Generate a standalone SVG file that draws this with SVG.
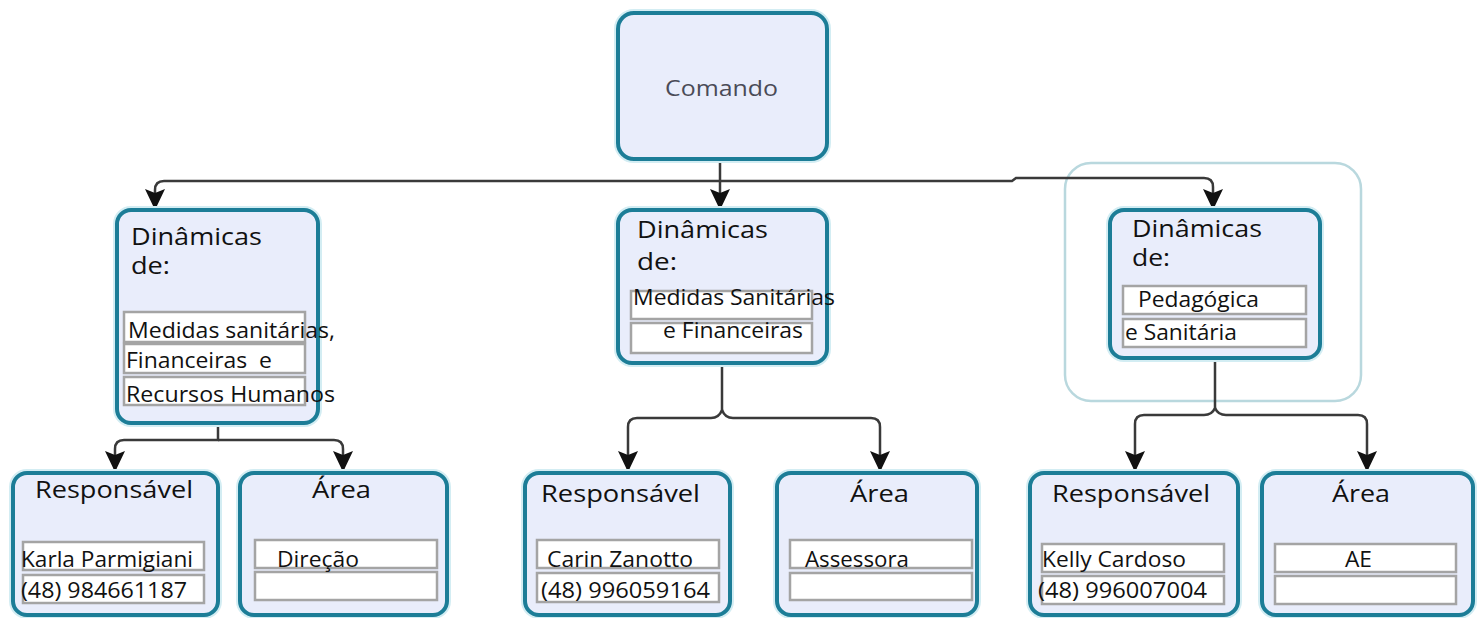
<svg xmlns="http://www.w3.org/2000/svg" width="1480" height="618" viewBox="0 0 1480 618">
<style>
.node{fill:#e9edfb;stroke:#1c7d97;stroke-width:4}
.halo{fill:none;stroke:#d3edf3;stroke-width:8}
.cell{fill:#ffffff;stroke:#a4a4a4;stroke-width:2.5}
.t{font-family:"Open Sans","DejaVu Sans",sans-serif;fill:#111111}
.h{font-size:23px}
.s{font-size:21px}
.cmd{font-family:"Open Sans","DejaVu Sans",sans-serif;font-size:22px;fill:#4a4b57}
.conn path{fill:none;stroke:#3a3a3a;stroke-width:2.5;marker-end:url(#arr)}
</style>
<defs>
<marker id="arr" markerUnits="userSpaceOnUse" viewBox="0 0 22 22" markerWidth="22" markerHeight="22" refX="21" refY="11" orient="auto">
<path d="M0,1 L21,11 L0,21 L4,11 Z" fill="#111111"/>
</marker>
</defs>
<rect width="1480" height="618" fill="#ffffff"/>

<g id="grupo-destaque">
<rect x="1065" y="163" width="296" height="238" rx="26" fill="none" stroke="#b9d8de" stroke-width="2.5"/>
</g>

<g class="conn" id="connectors">
<path d="M720,159 V210"/>
<path d="M720,181 H164 Q155,181 155,190 V210"/>
<path d="M720,181 H1012 L1016,178 H1204 Q1213,178 1213,187 V210"/>
<path d="M218,423 V440 H124 Q115,440 115,449 V472"/>
<path d="M218,440 H334 Q343,440 343,449 V472"/>
<path d="M722,363 V410 Q719,418 711,418 H637 Q628,418 628,427 V472"/>
<path d="M722,410 Q725,418 733,418 H871 Q880,418 880,427 V472"/>
<path d="M1215,358 V408 Q1212,415 1204,415 H1144 Q1135,415 1135,424 V472"/>
<path d="M1215,408 Q1218,415 1226,415 H1358 Q1367,415 1367,424 V472"/>
</g>

<g id="comando">
<rect class="halo" x="618" y="13" width="209" height="146" rx="16"/>
<rect class="node" x="618" y="13" width="209" height="146" rx="16"/>
<text class="cmd" x="665" y="96" textLength="113" lengthAdjust="spacingAndGlyphs">Comando</text>
</g>

<g id="dinamicas-1">
<rect class="halo" x="117" y="210" width="201" height="213" rx="14"/>
<rect class="node" x="117" y="210" width="201" height="213" rx="14"/>
<text class="t h" x="131" y="245" textLength="131" lengthAdjust="spacingAndGlyphs">Dinâmicas</text>
<text class="t h" x="131" y="274" textLength="39" lengthAdjust="spacingAndGlyphs">de:</text>
<rect class="cell" x="124" y="312" width="181" height="30"/>
<rect class="cell" x="124" y="344" width="181" height="29"/>
<rect class="cell" x="124" y="377" width="181" height="28"/>
<text class="t s" x="128" y="338" textLength="207" lengthAdjust="spacingAndGlyphs">Medidas sanitárias,</text>
<text class="t s" x="126" y="368" textLength="146" lengthAdjust="spacingAndGlyphs" xml:space="preserve">Financeiras  e</text>
<text class="t s" x="126" y="402" textLength="209" lengthAdjust="spacingAndGlyphs">Recursos Humanos</text>
</g>

<g id="dinamicas-2">
<rect class="halo" x="618" y="210" width="209" height="153" rx="14"/>
<rect class="node" x="618" y="210" width="209" height="153" rx="14"/>
<text class="t h" x="637" y="238" textLength="131" lengthAdjust="spacingAndGlyphs">Dinâmicas</text>
<text class="t h" x="637" y="270" textLength="40" lengthAdjust="spacingAndGlyphs">de:</text>
<rect class="cell" x="631" y="291" width="181" height="28"/>
<rect class="cell" x="631" y="323" width="181" height="30"/>
<text class="t s" x="633" y="305" textLength="202" lengthAdjust="spacingAndGlyphs">Medidas Sanitárias</text>
<text class="t s" x="663" y="338" textLength="140" lengthAdjust="spacingAndGlyphs">e Financeiras</text>
</g>

<g id="dinamicas-3">
<rect class="halo" x="1110" y="210" width="210" height="148" rx="14"/>
<rect class="node" x="1110" y="210" width="210" height="148" rx="14"/>
<text class="t h" x="1132" y="237" textLength="130" lengthAdjust="spacingAndGlyphs">Dinâmicas</text>
<text class="t h" x="1132" y="266" textLength="38" lengthAdjust="spacingAndGlyphs">de:</text>
<rect class="cell" x="1123" y="286" width="183" height="28"/>
<rect class="cell" x="1123" y="319" width="183" height="28"/>
<text class="t s" x="1138" y="307" textLength="121" lengthAdjust="spacingAndGlyphs">Pedagógica</text>
<text class="t s" x="1125" y="340" textLength="112" lengthAdjust="spacingAndGlyphs">e Sanitária</text>
</g>

<g id="responsavel-1">
<rect class="halo" x="13" y="473" width="205" height="142" rx="14"/>
<rect class="node" x="13" y="473" width="205" height="142" rx="14"/>
<text class="t h" x="35" y="498" textLength="158" lengthAdjust="spacingAndGlyphs">Responsável</text>
<rect class="cell" x="23" y="542" width="181" height="28"/>
<rect class="cell" x="23" y="575" width="181" height="28"/>
<text class="t s" x="21" y="567" textLength="172" lengthAdjust="spacingAndGlyphs">Karla Parmigiani</text>
<text class="t s" x="21" y="598" textLength="166" lengthAdjust="spacingAndGlyphs">(48) 984661187</text>
</g>

<g id="area-1">
<rect class="halo" x="240" y="473" width="207" height="142" rx="14"/>
<rect class="node" x="240" y="473" width="207" height="142" rx="14"/>
<text class="t h" x="312" y="498" textLength="59" lengthAdjust="spacingAndGlyphs">Área</text>
<rect class="cell" x="255" y="540" width="182" height="28"/>
<rect class="cell" x="255" y="572" width="182" height="28"/>
<text class="t s" x="277" y="567" textLength="82" lengthAdjust="spacingAndGlyphs">Direção</text>
</g>

<g id="responsavel-2">
<rect class="halo" x="525" y="473" width="205" height="142" rx="14"/>
<rect class="node" x="525" y="473" width="205" height="142" rx="14"/>
<text class="t h" x="541" y="502" textLength="159" lengthAdjust="spacingAndGlyphs">Responsável</text>
<rect class="cell" x="537" y="540" width="182" height="28"/>
<rect class="cell" x="537" y="573" width="182" height="29"/>
<text class="t s" x="547" y="567" textLength="146" lengthAdjust="spacingAndGlyphs">Carin Zanotto</text>
<text class="t s" x="541" y="598" textLength="169" lengthAdjust="spacingAndGlyphs">(48) 996059164</text>
</g>

<g id="area-2">
<rect class="halo" x="777" y="473" width="200" height="142" rx="14"/>
<rect class="node" x="777" y="473" width="200" height="142" rx="14"/>
<text class="t h" x="850" y="502" textLength="59" lengthAdjust="spacingAndGlyphs">Área</text>
<rect class="cell" x="790" y="540" width="182" height="28"/>
<rect class="cell" x="790" y="573" width="182" height="27"/>
<text class="t s" x="805" y="567" textLength="104" lengthAdjust="spacingAndGlyphs">Assessora</text>
</g>

<g id="responsavel-3">
<rect class="halo" x="1030" y="473" width="208" height="142" rx="14"/>
<rect class="node" x="1030" y="473" width="208" height="142" rx="14"/>
<text class="t h" x="1052" y="502" textLength="158" lengthAdjust="spacingAndGlyphs">Responsável</text>
<rect class="cell" x="1042" y="544" width="182" height="28"/>
<rect class="cell" x="1042" y="576" width="182" height="28"/>
<text class="t s" x="1042" y="567" textLength="144" lengthAdjust="spacingAndGlyphs">Kelly Cardoso</text>
<text class="t s" x="1038" y="598" textLength="169" lengthAdjust="spacingAndGlyphs">(48) 996007004</text>
</g>

<g id="area-3">
<rect class="halo" x="1262" y="473" width="211" height="142" rx="14"/>
<rect class="node" x="1262" y="473" width="211" height="142" rx="14"/>
<text class="t h" x="1332" y="502" textLength="58" lengthAdjust="spacingAndGlyphs">Área</text>
<rect class="cell" x="1275" y="544" width="181" height="28"/>
<rect class="cell" x="1275" y="576" width="181" height="28"/>
<text class="t s" x="1345" y="567" textLength="27" lengthAdjust="spacingAndGlyphs">AE</text>
</g>
</svg>
